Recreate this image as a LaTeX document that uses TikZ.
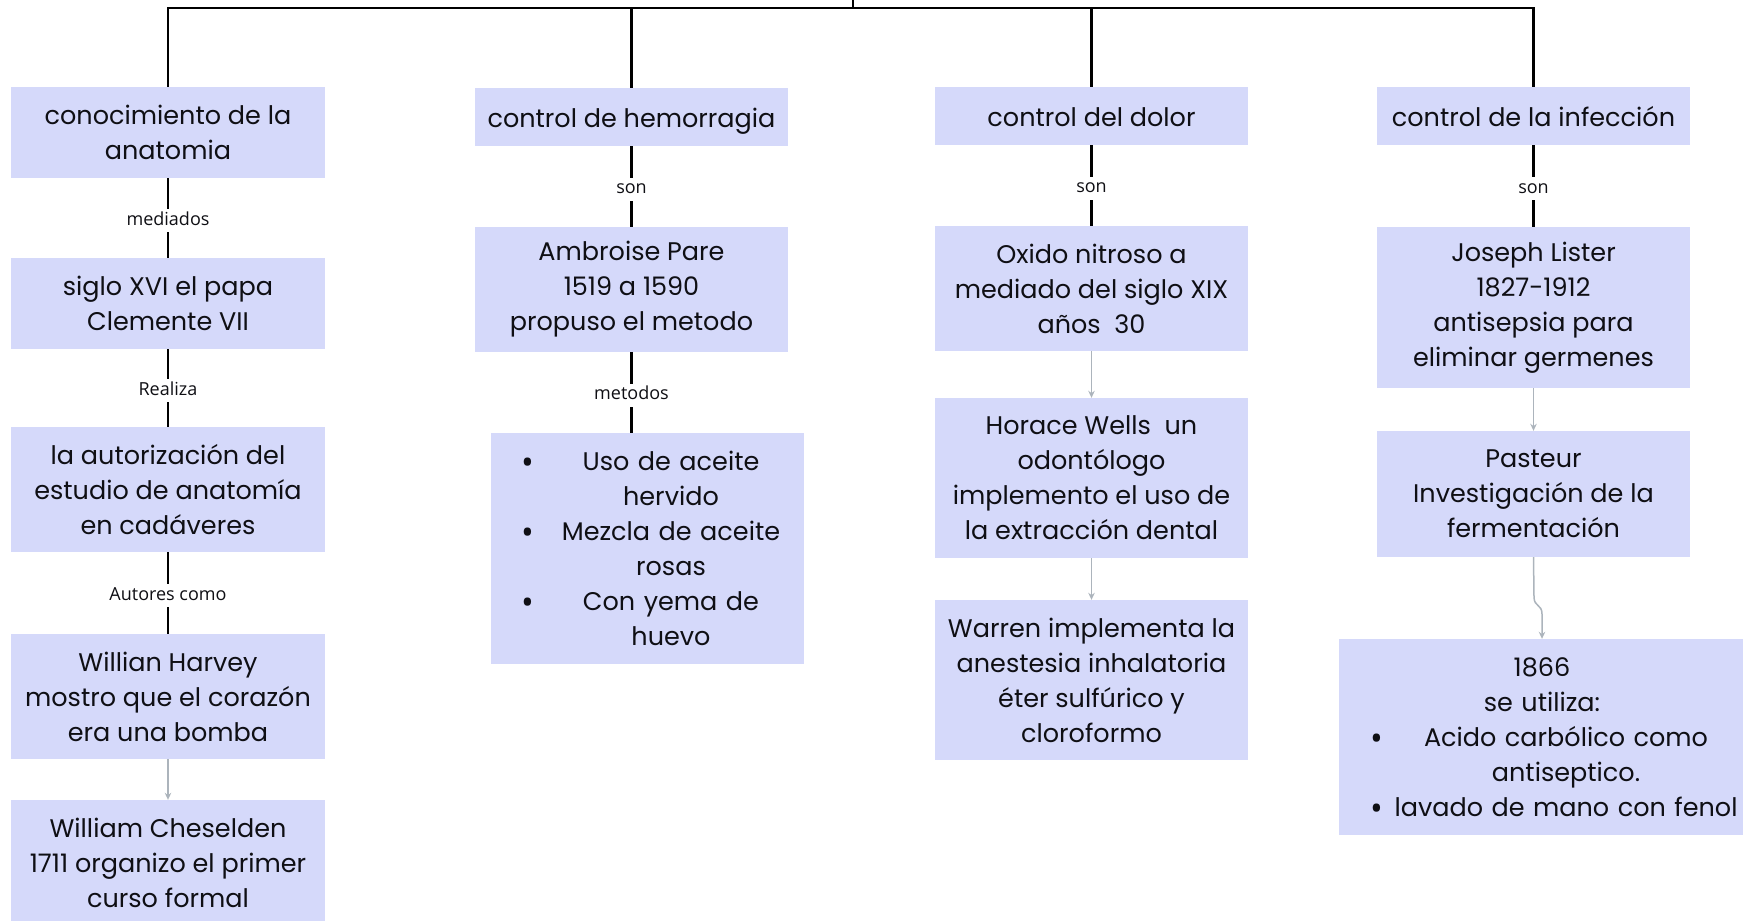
\documentclass[tikz,border=0pt]{standalone}
\usepackage{fontspec}
\setmainfont{Poppins}
\newfontfamily\lblfont{Open Sans}
\usetikzlibrary{arrows.meta}
\definecolor{boxc}{RGB}{213,217,250}
\definecolor{txtc}{RGB}{15,15,20}
\definecolor{arrc}{RGB}{172,180,188}
\newcommand{\blt}{\smash{\raisebox{-4pt}{\lblfont\fontsize{34pt}{35pt}\selectfont •}}}
\tikzset{
  box/.style={fill=boxc, text=txtc, inner sep=0pt, align=center,
    font=\fontsize{25.5pt}{35pt}\selectfont, minimum width=313pt},
  onebox/.style={box, text height=22pt, text depth=2pt},
  listbox/.style={box, align=left},
  lbl/.style={fill=white, inner xsep=2pt, inner ysep=3pt, text height=13pt, text depth=4pt,
    yshift=-2.5pt, font=\lblfont\fontsize{18pt}{20pt}\selectfont, text=txtc},
  conn/.style={line width=2.2pt, draw=black},
  garrow/.style={line width=1.5pt, draw=arrc, -{Stealth[length=7pt,width=6.5pt]}},
}
\begin{document}
\begin{tikzpicture}[x=1pt,y=-1pt]
\useasboundingbox (0,0) rectangle (1743,921);
% column 1
\node[box, minimum width=314pt, minimum height=91pt] (B1) at (168,132.5) {conocimiento de la\\anatomia};
\node[box, minimum width=314pt, minimum height=91pt] (B2) at (168,303.5) {siglo XVI el papa\\Clemente VII};
\node[box, minimum width=314pt, minimum height=125pt] (B3) at (168,489.5) {la autorización del\\estudio de anatomía\\en cadáveres};
\node[box, minimum width=314pt, minimum height=125pt] (B4) at (168,696.5) {Willian Harvey\\mostro que el corazón\\era una bomba};
\node[box, minimum width=314pt, minimum height=126pt] (B5) at (168,863) {William Cheselden\\1711 organizo el primer\\curso formal};
% column 2
\node[onebox, minimum height=58pt] (C1) at (631.5,117) {control de hemorragia};
\node[box, minimum height=125pt] (C2) at (631.5,289.5) {Ambroise Pare\\1519 a 1590\\propuso el metodo};
\node[listbox, text width=313pt, minimum height=231pt] (C3) at (647.5,548.5) {%
\hspace*{30pt}\makebox[23pt][l]{\blt}\makebox[254pt]{Uso de aceite}\\
\hspace*{53pt}\makebox[254pt]{hervido}\\
\hspace*{30pt}\makebox[23pt][l]{\blt}\makebox[254pt]{Mezcla de aceite}\\
\hspace*{53pt}\makebox[254pt]{rosas}\\
\hspace*{30pt}\makebox[23pt][l]{\blt}\makebox[254pt]{Con yema de}\\
\hspace*{53pt}\makebox[254pt]{huevo}};
% column 3
\node[onebox, minimum height=58pt] (D1) at (1091.5,116) {control del dolor};
\node[box, minimum height=125pt] (D2) at (1091.5,288.5) {Oxido nitroso a\\mediado del siglo XIX\\años\ \ 30};
\node[box, minimum height=160pt] (D3) at (1091.5,478) {Horace Wells\ \ un\\odontólogo\\implemento el uso de\\la extracción dental};
\node[box, minimum height=160pt] (D4) at (1091.5,680) {Warren implementa la\\anestesia inhalatoria\\éter sulfúrico y\\cloroformo};
% column 4
\node[onebox, minimum height=58pt] (E1) at (1533.5,116) {control de la infección};
\node[box, minimum height=161pt] (E2) at (1533.5,307.5) {Joseph Lister\\1827-1912\\antisepsia para\\eliminar germenes};
\node[box, minimum height=126pt] (E3) at (1533.5,494) {Pasteur\\Investigación de la\\fermentación};
\node[listbox, text width=406pt, minimum height=196pt] (E4) at (1542,737) {%
\makebox[406pt]{1866}\\
\makebox[406pt]{se utiliza:}\\
\hspace*{31pt}\makebox[25pt][l]{\blt}\makebox[342pt]{Acido carbólico como}\\
\hspace*{56pt}\makebox[342pt]{antiseptico.}\\
\hspace*{31pt}\makebox[25pt][l]{\blt}\makebox[342pt]{lavado de mano con fenol}};
% top tree
\coordinate (root) at (853,-2);
\coordinate (hub) at (853,8);
\draw[line width=2.5pt] (root) -- (hub);
\draw[line width=2.5pt] (B1.north) -- (B1.north |- hub) -- (E1.north |- hub) -- (E1.north);
\draw[conn] (C1.north) -- (C1.north |- hub);
\draw[conn] (D1.north) -- (D1.north |- hub);
% labelled connectors
\draw[conn] (B1) -- (B2) node[lbl, midway] {mediados};
\draw[conn] (B2) -- (B3) node[lbl, midway] {Realiza};
\draw[conn] (B3) -- (B4) node[lbl, midway] {Autores como};
\draw[conn] (C1) -- (C2) node[lbl, midway] {son};
\draw[conn] (C2.south) -- (C2.south |- C3.north) node[lbl, midway] {metodos};
\draw[conn] (D1) -- (D2) node[lbl, midway] {son};
\draw[conn] (E1) -- (E2) node[lbl, midway] {son};
% gray arrows
\draw[garrow] (B4) -- (B5);
\draw[garrow] (D2) -- (D3);
\draw[garrow] (D3) -- (D4);
\draw[garrow] (E2) -- (E3);
\coordinate (j1) at (1534,597);
\coordinate (j2) at (1542,614);
\draw[garrow] (E3.south) -- (j1) .. controls (1534,607) and (1542,604) .. (j2) -- (E4.north);
\end{tikzpicture}
\end{document}
